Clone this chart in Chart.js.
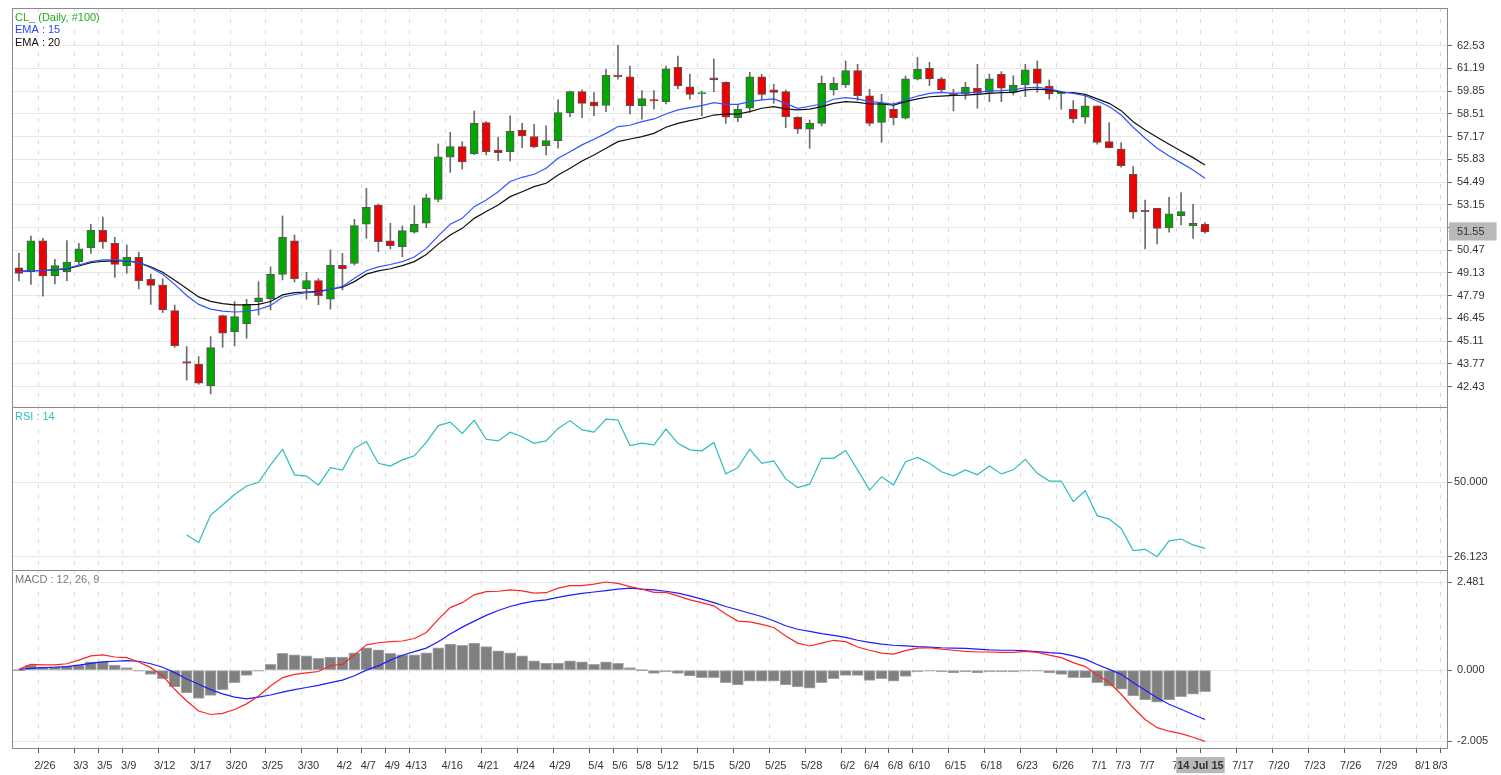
<!DOCTYPE html>
<html><head><meta charset="utf-8">
<script src="https://cdn.jsdelivr.net/npm/chart.js@4.4.0/dist/chart.umd.min.js"></script>
<style>
html,body{margin:0;padding:0;background:#fff;}
#wrap{position:relative;width:1501px;height:775px;overflow:hidden;background:#fff;}
canvas{position:absolute;left:0;top:0;}
</style></head>
<body><div id="wrap">
<canvas id="cPrice" width="1501" height="775"></canvas>
<canvas id="cRsi" width="1501" height="775"></canvas>
<canvas id="cMacd" width="1501" height="775"></canvas>
</div>
<script>
// ---------- DATA ----------
const dates = ['2/24','2/25','2/26','2/27',
 '3/2','3/3','3/4','3/5','3/6','3/9','3/10','3/11','3/12','3/13','3/16','3/17','3/18','3/19','3/20','3/23','3/24','3/25','3/26','3/27','3/30','3/31',
 '4/1','4/2','4/6','4/7','4/8','4/9','4/10','4/13','4/14','4/15','4/16','4/17','4/20','4/21','4/22','4/23','4/24','4/27','4/28','4/29','4/30',
 '5/1','5/4','5/5','5/6','5/7','5/8','5/11','5/12','5/13','5/14','5/15','5/18','5/19','5/20','5/21','5/22','5/25','5/26','5/27','5/28','5/29',
 '6/1','6/2','6/3','6/4','6/5','6/8','6/9','6/10','6/11','6/12','6/15','6/16','6/17','6/18','6/19','6/22','6/23','6/24','6/25','6/26','6/29','6/30',
 '7/1','7/2','7/3','7/6','7/7','7/8','7/9','7/10','7/13','7/14'];

const opens = [49.44,49.21,51.02,48.97,49.21,49.80,50.60,51.65,50.88,49.56,
 50.05,48.76,48.42,46.91,43.90,43.75,42.49,46.62,45.67,46.12,
 47.44,47.60,49.05,51.02,48.19,48.68,47.58,49.58,49.70,52.00,
 53.14,51.02,50.68,51.53,52.06,53.47,55.95,56.58,56.17,57.99,
 56.38,56.28,57.56,57.17,56.64,56.93,58.58,59.82,59.21,59.00,
 60.80,60.70,58.99,59.27,59.23,61.26,60.11,59.68,60.64,60.37,
 58.29,58.84,60.70,59.92,59.82,58.31,57.60,57.95,59.92,60.21,
 61.06,59.58,58.01,58.78,58.25,60.55,61.20,60.57,59.72,59.68,
 60.02,59.78,60.84,59.78,60.21,61.16,60.15,59.70,58.78,58.31,
 58.98,56.87,56.44,54.95,52.82,52.94,51.80,52.51,51.92,52.00];
const highs = [50.29,51.31,51.17,49.94,51.04,50.88,52.00,52.43,51.23,50.78,
 50.35,49.07,48.78,47.24,44.79,44.20,45.38,46.65,47.44,47.58,
 48.62,49.50,52.49,51.37,49.17,48.80,50.49,50.29,52.29,54.12,
 53.20,52.06,51.90,53.10,53.78,56.74,57.42,56.87,58.68,58.05,
 57.13,58.39,57.95,57.89,57.80,59.33,59.86,59.92,59.76,61.14,
 62.57,61.33,59.88,59.88,61.33,61.92,60.86,59.86,61.75,60.40,
 59.07,60.96,60.84,60.25,59.92,58.35,58.15,60.74,60.66,61.63,
 61.43,59.96,59.66,59.17,60.74,61.84,61.55,60.66,59.96,60.37,
 61.43,60.86,61.00,60.76,61.43,61.63,60.51,59.70,59.29,59.62,
 58.98,57.99,56.81,55.40,53.43,52.94,53.59,53.87,53.18,52.10];
const lows = [48.66,48.46,47.77,48.48,48.68,49.60,50.29,50.58,48.87,49.11,
 48.19,47.28,46.79,44.75,42.82,42.57,42.00,44.75,44.83,45.28,
 46.65,46.95,48.72,48.60,47.58,47.26,47.00,48.13,49.60,51.17,
 50.39,50.55,50.09,51.47,51.81,53.32,55.06,55.26,56.10,56.09,
 55.75,55.73,56.52,56.52,56.09,56.48,58.35,58.29,58.41,58.64,
 60.55,58.50,58.19,58.78,59.09,59.98,59.37,58.39,59.82,57.95,
 58.05,58.60,59.33,59.13,57.70,57.36,56.48,57.80,59.62,60.06,
 59.30,57.80,56.83,57.86,58.20,60.51,60.17,59.78,58.68,59.37,
 58.84,59.23,59.23,59.62,59.52,59.78,59.37,58.78,57.99,57.95,
 56.72,56.52,55.36,52.35,50.55,50.84,51.53,51.96,51.17,51.47];
const closes = [49.11,51.02,48.95,49.56,49.78,50.55,51.65,50.96,49.64,50.05,
 48.68,48.40,46.95,44.85,43.82,42.63,44.73,45.58,46.56,47.28,
 47.67,49.05,51.23,48.80,48.68,47.79,49.60,49.37,51.92,53.00,
 50.98,50.74,51.63,52.00,53.56,55.97,56.58,55.67,57.95,56.28,
 56.22,57.50,57.21,56.56,56.93,58.58,59.82,59.13,58.98,60.78,
 60.70,58.99,59.41,59.27,61.17,60.15,59.66,59.68,60.51,58.31,
 58.78,60.70,59.66,59.78,58.35,57.60,57.95,60.31,60.31,61.06,
 59.58,57.95,59.13,58.29,60.57,61.14,60.57,59.92,59.62,60.07,
 59.72,60.57,60.02,60.21,61.10,60.31,59.68,59.70,58.23,58.98,
 56.83,56.52,55.46,52.71,52.74,51.76,52.61,52.75,52.06,51.55];

const ema15 = [49.21,49.27,49.27,49.31,49.40,49.60,49.80,49.90,49.90,49.86,
 49.74,49.44,49.05,48.46,47.80,47.28,47.00,46.88,46.83,46.86,
 46.98,47.22,47.70,47.86,47.97,48.00,48.17,48.34,48.82,49.26,
 49.49,49.63,49.80,50.07,50.58,51.32,52.01,52.35,53.04,53.43,
 53.92,54.52,54.77,54.95,55.30,55.89,56.28,56.68,57.01,57.36,
 57.76,57.84,58.05,58.21,58.50,58.74,58.88,59.00,59.17,59.07,
 59.07,59.23,59.33,59.39,59.13,58.84,58.96,59.09,59.37,59.47,
 59.39,59.23,59.17,59.07,59.33,59.56,59.72,59.78,59.72,59.76,
 59.78,59.86,59.88,59.92,60.05,60.07,59.98,59.82,59.72,59.58,
 59.27,58.94,58.44,57.72,57.07,56.48,56.02,55.62,55.20,54.72];
const ema20 = [49.21,49.27,49.27,49.31,49.37,49.54,49.74,49.82,49.84,49.84,
 49.74,49.50,49.17,48.70,48.22,47.72,47.46,47.32,47.25,47.25,
 47.28,47.45,47.84,47.97,48.01,48.05,48.17,48.29,48.62,49.06,
 49.25,49.38,49.56,49.80,50.22,50.83,51.37,51.76,52.35,52.75,
 53.14,53.63,53.92,54.22,54.42,54.91,55.30,55.73,56.09,56.48,
 56.87,57.03,57.17,57.36,57.72,57.95,58.11,58.25,58.44,58.50,
 58.50,58.64,58.84,58.94,58.80,58.74,58.79,58.94,59.13,59.23,
 59.19,59.09,59.09,59.03,59.23,59.39,59.52,59.56,59.60,59.62,
 59.66,59.72,59.76,59.78,59.92,59.96,59.92,59.78,59.76,59.66,
 59.39,59.13,58.70,58.05,57.56,57.13,56.72,56.32,55.93,55.50];

const rsi14 = [null,null,null,null,null,null,null,null,null,null,null,null,null,null,
 33.1,30.7,39.5,42.7,46.1,48.8,50.0,55.6,60.6,52.4,52.0,49.1,54.7,53.9,60.9,63.1,
 56.1,55.2,57.2,58.5,62.8,68.2,69.3,65.7,69.9,63.8,63.3,66.1,64.6,62.5,63.3,67.3,
 69.8,66.8,66.1,70.3,70.0,61.8,62.6,62.0,67.1,62.5,60.4,60.1,62.8,52.7,54.7,60.6,
 56.1,56.9,51.1,48.3,49.4,57.7,57.7,60.2,54.0,47.5,51.8,49.1,56.6,58.0,56.1,53.4,
 52.1,54.0,52.4,55.2,52.7,54.0,57.4,52.9,50.4,50.4,43.8,47.3,39.3,38.2,35.2,28.1,
 28.5,26.123,31.2,31.8,29.9,28.8];

const macdLine = [0.02,0.16,0.15,0.15,0.18,0.28,0.40,0.43,0.37,0.35,
 0.23,0.07,-0.16,-0.54,-0.87,-1.15,-1.25,-1.22,-1.11,-0.95,
 -0.73,-0.45,-0.21,-0.12,-0.08,-0.04,0.13,0.16,0.43,0.71,
 0.77,0.80,0.82,0.89,1.06,1.43,1.76,1.90,2.12,2.21,
 2.22,2.26,2.23,2.17,2.18,2.31,2.38,2.38,2.42,2.481,
 2.44,2.35,2.28,2.19,2.19,2.09,1.98,1.90,1.81,1.58,
 1.38,1.36,1.29,1.20,0.96,0.76,0.68,0.76,0.84,0.80,
 0.65,0.56,0.48,0.45,0.55,0.62,0.63,0.59,0.56,0.53,
 0.51,0.51,0.50,0.50,0.53,0.50,0.42,0.35,0.21,0.10,
 -0.14,-0.35,-0.68,-1.06,-1.39,-1.62,-1.72,-1.79,-1.89,-2.005];
const signalLine = [0.02,0.05,0.07,0.08,0.10,0.14,0.19,0.23,0.25,0.27,
 0.25,0.18,0.08,-0.07,-0.25,-0.40,-0.55,-0.67,-0.76,-0.81,
 -0.76,-0.70,-0.62,-0.55,-0.49,-0.43,-0.35,-0.28,-0.16,0.00,
 0.12,0.28,0.42,0.52,0.62,0.80,1.02,1.21,1.38,1.54,
 1.68,1.79,1.88,1.94,1.98,2.05,2.11,2.16,2.20,2.24,
 2.28,2.31,2.28,2.26,2.22,2.17,2.09,2.00,1.90,1.79,
 1.70,1.60,1.51,1.39,1.25,1.15,1.09,1.03,0.98,0.92,
 0.84,0.78,0.73,0.70,0.68,0.66,0.65,0.63,0.62,0.61,
 0.59,0.57,0.56,0.56,0.54,0.52,0.49,0.47,0.40,0.31,
 0.16,0.02,-0.12,-0.35,-0.57,-0.78,-0.96,-1.10,-1.25,-1.39];
const macdHist = [0.00,0.14,0.09,0.10,0.11,0.15,0.23,0.24,0.14,0.07,
 -0.02,-0.12,-0.24,-0.47,-0.64,-0.80,-0.71,-0.55,-0.35,-0.15,
 -0.02,0.16,0.47,0.43,0.40,0.33,0.37,0.37,0.49,0.63,
 0.57,0.47,0.43,0.43,0.49,0.63,0.73,0.70,0.76,0.66,
 0.54,0.49,0.40,0.26,0.20,0.20,0.26,0.23,0.16,0.23,
 0.19,0.07,0.00,-0.09,-0.05,-0.09,-0.16,-0.21,-0.21,-0.35,
 -0.42,-0.31,-0.31,-0.31,-0.42,-0.47,-0.51,-0.35,-0.24,-0.15,
 -0.15,-0.29,-0.24,-0.31,-0.18,-0.05,-0.01,-0.05,-0.08,-0.05,
 -0.08,-0.05,-0.05,-0.05,-0.01,-0.01,-0.08,-0.12,-0.21,-0.21,
 -0.35,-0.45,-0.54,-0.73,-0.84,-0.90,-0.84,-0.75,-0.68,-0.61];

const labeledDates = ['2/26','3/3','3/5','3/9','3/12','3/17','3/20','3/25','3/30','4/2','4/7','4/9','4/13','4/16','4/21','4/24','4/29',
 '5/4','5/6','5/8','5/12','5/15','5/20','5/25','5/28','6/2','6/4','6/8','6/10','6/15','6/18','6/23','6/26','7/1','7/3','7/7','7/10'];
const lastDateLabel = '14 Jul 15';
const futureDates = ['7/17','7/20','7/23','7/26','7/29','8/1','8/3'];

const priceTicks = [42.43,43.77,45.11,46.45,47.79,49.13,50.47,51.81,53.15,54.49,55.83,57.17,58.51,59.85,61.19,62.53];
const rsiTicks = [26.123, 50.000];
const macdTicks = [-2.005, 0.000, 2.481];

// ---------- BUILD ----------
const FONT = '"Liberation Sans", Arial, sans-serif';
const lastIdx = dates.length - 1;
const X_MIN = -0.58, X_MAX = 119.28, GRID_SHIFT = 0.38;
const LEFT = 12, AXIS_W = 53, LABEL_OFFSET = 6.5, IDX_PX = 11.98;

function toDate(s){ const p = s.split('/').map(Number); return new Date(2015, p[0]-1, p[1]); }
const tickSpecs = labeledDates.map(d => ({pos: dates.indexOf(d), label: d, grid: true}));
const centered = [];
tickSpecs.push({pos: lastIdx, label: '', grid: true});
centered.push({pos: lastIdx, label: lastDateLabel, hl: true});
const baseDay = toDate(dates[lastIdx]);
futureDates.forEach((d, k) => {
  const p = lastIdx + Math.round((toDate(d) - baseDay) / 86400000);
  if (k === futureDates.length - 1) {          // last label squeezed against the frame
    tickSpecs.push({pos: p, label: '', grid: true});
    centered.push({pos: p, label: d});
  } else tickSpecs.push({pos: p, label: d, grid: true});
});
// labels drawn centred on their tick (no offset): extra label-only ticks, drawn last
centered.forEach(c => tickSpecs.push({pos: c.pos - LABEL_OFFSET / IDX_PX, label: c.label, grid: false, hl: !!c.hl}));
const hlTick = tickSpecs.findIndex(t => t.hl);

function noPad(s) { s.paddingTop = 0; s.paddingBottom = 0; s.paddingLeft = 0; s.paddingRight = 0; }

function xAxis(show) {
  return {
    type: 'linear', min: X_MIN, max: X_MAX, offset: false,
    afterBuildTicks: s => { s.ticks = tickSpecs.map(t => ({value: t.pos - GRID_SHIFT})); },
    ticks: {
      display: show, autoSkip: false, maxRotation: 0, minRotation: 0,
      labelOffset: LABEL_OFFSET, padding: 6, color: '#333',
      font: c => ({family: FONT, size: 11, weight: c.index === hlTick ? 'bold' : 'normal'}),
      callback: (v, i) => tickSpecs[i] ? tickSpecs[i].label : '',
      showLabelBackdrop: c => c.index === hlTick,
      backdropColor: '#b8b8b8',
      backdropPadding: {left: 1, right: 1, top: 2, bottom: 1}
    },
    grid: {offset: false, lineWidth: 1, drawTicks: show, tickLength: 5, tickWidth: 1,
      color: c => (tickSpecs[c.index] && tickSpecs[c.index].grid) ? '#dadada' : 'rgba(0,0,0,0)',
      tickColor: c => (tickSpecs[c.index] && tickSpecs[c.index].grid) ? '#555' : 'rgba(0,0,0,0)'},
    border: {display: false, dash: [4, 7]},
    afterFit: s => { s.height = show ? 27 : 0; noPad(s); }
  };
}
function yAxis(min, max, tickVals, fmt, pad, extra) {
  const all = extra !== undefined ? tickVals.concat([extra]) : tickVals;
  const exIdx = extra !== undefined ? tickVals.length : -1;
  return {
    position: 'right', min: min, max: max,
    afterBuildTicks: s => { s.ticks = all.map(v => ({value: v})); },
    ticks: {
      autoSkip: false, padding: pad, color: '#333', font: {family: FONT, size: 11},
      callback: v => Number(v).toFixed(fmt),
      showLabelBackdrop: c => c.index === exIdx,
      backdropColor: '#b9b9b9',
      backdropPadding: {left: 8, right: 12, top: 3, bottom: 2}
    },
    grid: {color: c => c.index === exIdx ? 'rgba(0,0,0,0)' : '#e6e6e6', lineWidth: 1,
           tickLength: 4, tickColor: c => c.index === exIdx ? '#cccccc' : '#666'},
    border: {display: false},
    afterFit: s => { s.width = AXIS_W; noPad(s); }
  };
}
const framePlugin = {
  id: 'frame',
  afterDraw(chart, args, opts) {
    const ctx = chart.ctx, a = chart.chartArea;
    ctx.save();
    ctx.strokeStyle = '#8a8a8a'; ctx.lineWidth = 1;
    ctx.strokeRect(a.left + 0.5, a.top + 0.5, a.right - a.left - 1, a.bottom - a.top);
    ctx.font = '11px ' + FONT; ctx.textBaseline = 'middle';
    (opts.texts || []).forEach((t, k) => {
      const y = a.top + 9.5 + k * 12.5;
      const w = ctx.measureText(t.text).width;
      ctx.fillStyle = '#fff';
      ctx.fillRect(a.left + 2, y - 6, w + 2, 12);
      ctx.fillStyle = t.color;
      ctx.fillText(t.text, a.left + 3, y);
    });
    ctx.restore();
  }
};
const common = {
  responsive: false, animation: false, devicePixelRatio: 1, events: [],
  plugins: {legend: {display: false}, tooltip: {enabled: false}}
};

// ---------- PRICE ----------
const GREEN = '#00a800', RED = '#f00000';
const isUp = closes.map((c, i) => c > opens[i] || (c === opens[i] && i > 0 && c >= closes[i-1]));
const bodyColor = isUp.map(u => u ? GREEN : RED);
const bodyBorder = closes.map((c, i) => c === opens[i] ? bodyColor[i] : '#565656');

new Chart(document.getElementById('cPrice'), {
  type: 'bar',
  data: {datasets: [
    {type: 'line', data: ema15.map((v, i) => ({x: i, y: v})), borderColor: '#2f55ff', borderWidth: 1.2, pointRadius: 0, order: 0},
    {type: 'line', data: ema20.map((v, i) => ({x: i, y: v})), borderColor: '#111111', borderWidth: 1.2, pointRadius: 0, order: 0},
    {type: 'bar', data: opens.map((o, i) => ({x: i, y: [o, closes[i]]})), backgroundColor: bodyColor, borderColor: bodyBorder,
      borderWidth: 1, borderSkipped: false, barThickness: 8, minBarLength: 1.5, grouped: false, order: 1},
    {type: 'bar', data: lows.map((l, i) => ({x: i, y: [l, highs[i]]})), backgroundColor: '#6c6c6c',
      borderWidth: 0, barThickness: 1, grouped: false, order: 2}
  ]},
  options: Object.assign({}, common, {
    layout: {padding: {left: LEFT, top: 8, right: 0, bottom: 775 - 407}},
    scales: {x: xAxis(false), y: yAxis(41.23, 64.75, priceTicks, 2, 5, closes[lastIdx])},
    plugins: Object.assign({}, common.plugins, {frame: {texts: [
      {text: 'CL_ (Daily, #100)', color: '#22aa22'},
      {text: 'EMA : 15', color: '#2a4bff'},
      {text: 'EMA : 20', color: '#111111'}
    ]}})
  }),
  plugins: [framePlugin]
});

// ---------- RSI ----------
new Chart(document.getElementById('cRsi'), {
  type: 'line',
  data: {datasets: [
    {data: rsi14.map((v, i) => ({x: i, y: v})), borderColor: '#2cbcbc', borderWidth: 1.2, pointRadius: 0, spanGaps: false}
  ]},
  options: Object.assign({}, common, {
    layout: {padding: {left: LEFT, top: 407, right: 0, bottom: 775 - 570}},
    scales: {x: xAxis(false), y: yAxis(21.85, 74.17, rsiTicks, 3, 2)},
    plugins: Object.assign({}, common.plugins, {frame: {texts: [{text: 'RSI : 14', color: '#30bcbc'}]}})
  }),
  plugins: [framePlugin]
});

// ---------- MACD ----------
new Chart(document.getElementById('cMacd'), {
  type: 'bar',
  data: {datasets: [
    {type: 'line', data: macdLine.map((v, i) => ({x: i, y: v})), borderColor: '#ff2424', borderWidth: 1.2, pointRadius: 0, order: 0},
    {type: 'line', data: signalLine.map((v, i) => ({x: i, y: v})), borderColor: '#1c1cff', borderWidth: 1.2, pointRadius: 0, order: 0},
    {type: 'bar', data: macdHist.map((v, i) => ({x: i, y: v})), backgroundColor: '#808080', borderColor: '#a8a8a8',
      borderWidth: 1, borderSkipped: false, barThickness: 11, minBarLength: 1, grouped: false, order: 1}
  ]},
  options: Object.assign({}, common, {
    layout: {padding: {left: LEFT, top: 570, right: 0, bottom: 0}},
    scales: {x: xAxis(true), y: yAxis(-2.193, 2.819, macdTicks, 3, 5)},
    plugins: Object.assign({}, common.plugins, {frame: {texts: [{text: 'MACD : 12, 26, 9', color: '#777777'}]}})
  }),
  plugins: [framePlugin]
});
</script>
</body></html>
